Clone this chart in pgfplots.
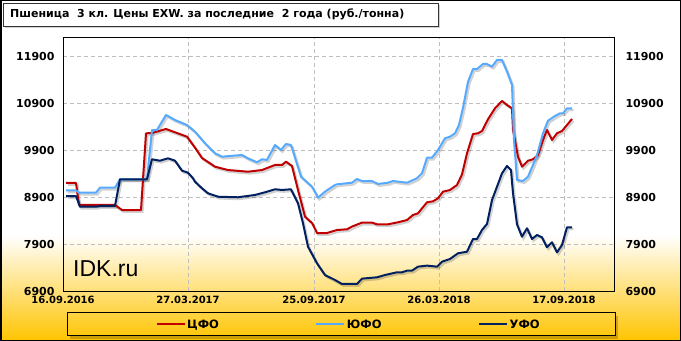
\documentclass[border=0pt]{standalone}
\usepackage{fontspec}
\setmainfont{DejaVu Sans}
\newfontfamily\arialfont{Liberation Sans}
\usepackage{pgfplots}
\usepackage{pgfplotstable}
\pgfplotsset{compat=1.18}
\usetikzlibrary{shadows}
\definecolor{cfo}{RGB}{192,0,0}
\definecolor{yufo}{RGB}{85,170,255}
\definecolor{ufo}{RGB}{0,32,96}
\definecolor{gold}{RGB}{255,196,0}
\definecolor{gridc}{RGB}{190,190,190}

\pgfplotstableread{
x y
3 9200
13 9200
16 8730
52 8730
59 8623
78 8623
83 10255
89 10260
103 10347
124 10183
132 9950
139 9730
152 9545
165 9474
185 9438
199 9474
212 9581
219 9581
223 9651
229 9560
235 9049
242 8481
249 8347
254 8134
264 8134
274 8198
284 8213
289 8270
299 8355
309 8355
314 8319
325 8319
335 8362
344 8410
350 8517
355 8553
364 8787
370 8808
375 8872
380 9013
387 9049
394 9155
399 9380
404 9830
410 10240
415 10255
419 10304
425 10553
432 10787
439 10943
444 10857
449 10787
450 10325
455 9757
459 9545
465 9672
470 9702
475 9794
480 10113
484 10325
489 10113
494 10255
499 10304
509 10560
}\cfotab

\pgfplotstableread{
x y
3 9040
13 9040
16 8992
33 8992
37 9098
52 9098
57 9277
84 9277
89 10325
94 10325
103 10645
112 10538
124 10432
132 10290
142 10043
152 9830
159 9758
179 9794
185 9723
194 9638
199 9702
204 9690
212 10006
218 9900
223 10028
228 10006
238 9332
249 9119
255 8885
262 9013
272 9155
274 9170
289 9204
294 9283
299 9240
309 9240
315 9177
325 9204
330 9240
344 9204
354 9298
359 9404
364 9736
369 9736
375 9900
382 10149
387 10183
392 10255
396 10432
400 10800
405 11350
410 11623
414 11623
420 11730
424 11730
429 11673
434 11815
439 11815
444 11567
449 11283
451 10113
454 9262
460 9240
465 9332
470 9581
474 9794
480 10255
485 10523
492 10623
497 10681
500 10681
504 10787
509 10787
}\yufotab

\pgfplotstableread{
x y
3 8921
13 8921
17 8694
33 8694
37 8709
52 8709
57 9277
84 9277
89 9702
97 9672
105 9723
112 9672
119 9460
125 9417
130 9298
132 9226
139 9085
145 8979
155 8906
175 8894
192 8943
202 9000
212 9064
219 9050
228 9064
235 8766
240 8340
245 7843
254 7489
262 7240
272 7134
279 7049
294 7049
299 7163
314 7191
322 7240
334 7298
339 7298
344 7333
349 7333
355 7418
364 7440
374 7418
379 7523
387 7581
395 7702
404 7736
410 8006
414 8006
419 8198
424 8326
429 8836
434 9119
439 9404
444 9560
448 9474
450 8979
454 8319
459 8055
464 8234
469 8006
474 8091
479 8042
484 7830
489 7936
494 7723
499 7879
504 8255
509 8255
}\ufotab

\begin{document}
\begin{tikzpicture}
\useasboundingbox (0bp,0bp) rectangle (681bp,341bp);
\fill[white] (0bp,0bp) rectangle (681bp,341bp);
\shade[top color=white, bottom color=gold] (0bp,0bp) rectangle (681bp,106bp);

% title box
\node[draw=black!80, line width=0.6bp, fill=white,
      drop shadow={shadow xshift=2bp, shadow yshift=-2bp, opacity=0.35},
      minimum width=435bp, minimum height=23bp, anchor=north west, inner sep=0]
      at (3bp,338bp) {};
\node[anchor=west, inner sep=0, font=\fontsize{11bp}{13bp}\selectfont\bfseries]
      at (10bp,327bp) {Пшеница\ \ 3 кл. Цены EXW. за последние\ \ 2 года (руб./тонна)};

% legend box
\fill[black, opacity=0.2] (70bp,2bp) rectangle (618bp,25bp);
\shade[top color=gold!74!white, bottom color=gold!95!white, draw=black, line width=1bp]
      (67bp,5bp) rectangle (615bp,28bp);

\begin{axis}[
  at={(63bp,50bp)}, anchor=south west,
  scale only axis, width=551bp, height=253bp,
  xmin=0, xmax=551, ymin=6900, ymax=12283,
  scaled x ticks=false, scaled y ticks=false,
  axis line style={line width=1bp},
  xtick={0,125,251,376,501},
  xticklabels={16.09.2016,27.03.2017,25.09.2017,26.03.2018,17.09.2018},
  ytick={6900,7900,8900,9900,10900,11900},
  yticklabels={6900,7900,8900,9900,10900,11900},
  major tick length=0pt,
  xmajorgrids, ymajorgrids,
  major grid style={gridc, dash pattern=on 4bp off 3bp, line width=0.75bp},
  yticklabel style={font=\fontsize{11bp}{13bp}\selectfont\bfseries, xshift=-5bp},
  xticklabel style={font=\fontsize{10bp}{12bp}\selectfont\bfseries, yshift=-2bp},
  legend style={draw=none, fill=none, at={(0.518,-0.1324)}, anchor=center,
     legend columns=3, font=\fontsize{11.5bp}{13bp}\selectfont\bfseries,
     /tikz/every even column/.append style={column sep=95bp},
     nodes={inner sep=1.5bp}},
  legend image code/.code={\draw[#1] (0bp,0bp) -- (28bp,0bp);},
  shadowplot/.style={draw=black, opacity=0.18, line width=2.2bp, xshift=1.5bp, yshift=-1.8bp, forget plot},
]
\addplot[shadowplot] table {\cfotab};
\addplot[shadowplot] table {\yufotab};
\addplot[shadowplot] table {\ufotab};
\addplot[cfo, line width=2bp, line join=round] table {\cfotab};
\addlegendentry{ЦФО}
\addplot[yufo, line width=2bp, line join=round] table {\yufotab};
\addlegendentry{ЮФО}
\addplot[ufo, line width=2bp, line join=round] table {\ufotab};
\addlegendentry{УФО}
\end{axis}

\begin{axis}[
  at={(63bp,50bp)}, anchor=south west,
  scale only axis, width=551bp, height=253bp,
  xmin=0, xmax=551, ymin=6900, ymax=12283,
  scaled x ticks=false, scaled y ticks=false,
  axis line style={draw=none},
  xtick=\empty,
  ytick={6900,7900,8900,9900,10900,11900},
  yticklabels={6900,7900,8900,9900,10900,11900},
  yticklabel pos=right,
  major tick length=0pt,
  yticklabel style={font=\fontsize{11bp}{13bp}\selectfont\bfseries, xshift=8bp},
]
\end{axis}

\node[anchor=base west, inner sep=0, font=\arialfont\fontsize{23bp}{26bp}\selectfont]
  at (73bp,64bp) {IDK.ru};

\draw[line width=1.5bp] (0.75bp,0.75bp) rectangle (680.25bp,340.25bp);
\end{tikzpicture}
\end{document}
